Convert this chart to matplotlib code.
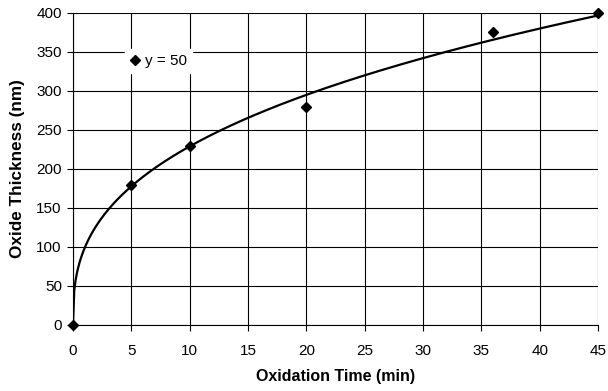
import matplotlib
matplotlib.use('Agg')
import numpy as np
import matplotlib.pyplot as plt

plt.rcParams.update({'font.family': ['Liberation Sans', 'DejaVu Sans'], 'font.size': 11})

time_min = [0, 5, 10, 20, 36, 45]
thickness_nm = [0, 180, 230, 280, 375, 400]

fig = plt.figure(figsize=(6.08, 3.91), dpi=100)
ax = fig.add_axes([0.120, 0.169, 0.8636, 0.798])

# power trendline fitted to the nonzero points
tx = np.array(time_min[1:], float)
ty = np.array(thickness_nm[1:], float)
b, lna = np.polyfit(np.log(tx), np.log(ty), 1)
xx = np.linspace(0, 45, 400)
ax.plot(xx, np.exp(lna) * xx ** b, color='black', lw=1.6, zorder=3)

ax.plot(time_min, thickness_nm, 'D', color='black', ms=5.5, label='y = 50', zorder=4, clip_on=False)

ax.set_xlim(0, 45)
ax.set_ylim(0, 400)
ax.set_xticks(np.arange(0, 46, 5))
ax.set_yticks(np.arange(0, 401, 50))
ax.grid(True, color='black', lw=0.8)
ax.set_axisbelow(True)
for s in ['top', 'right']:
    ax.spines[s].set_visible(False)
ax.tick_params(direction='out', length=4, width=0.8, labelsize=11)
ax.tick_params(axis='x', pad=9.5)
ax.tick_params(axis='y', pad=4)
ax.set_xlabel('Oxidation Time (min)', fontweight='bold', fontsize=11.5, labelpad=8)
ax.set_ylabel('Oxide Thickness (nm)', fontweight='bold', fontsize=12.3, labelpad=8)

leg = ax.legend(loc='upper left', bbox_to_anchor=(0.085, 0.91), frameon=True, fancybox=False,
                edgecolor='white', framealpha=1, handlelength=0.6, handletextpad=0.35,
                borderpad=0.35, fontsize=11)

fig.savefig('out.png', dpi=100)
